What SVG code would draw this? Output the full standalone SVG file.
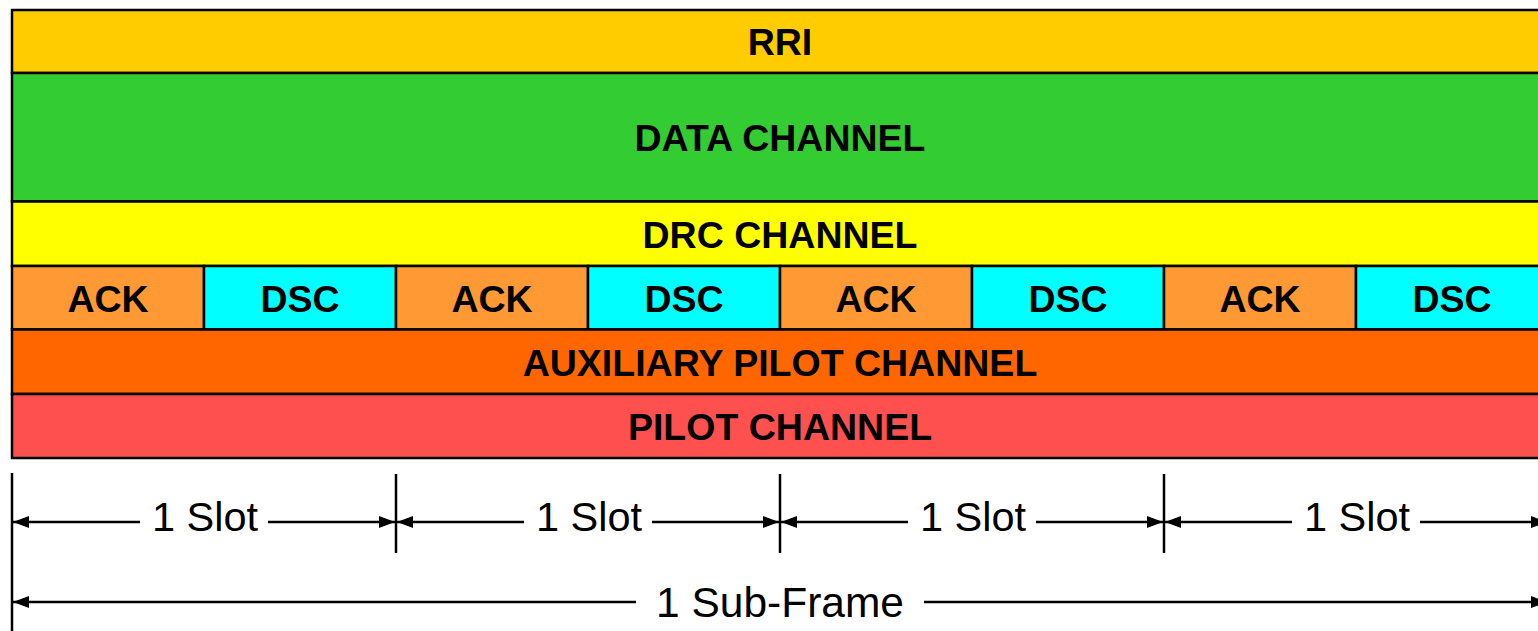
<svg xmlns="http://www.w3.org/2000/svg" width="1538" height="631" viewBox="0 0 1538 631">
<style>
.b{stroke:#000;stroke-width:2.5}
.t{font-family:"Liberation Sans",Arial,sans-serif;font-weight:bold;font-size:37.5px;text-anchor:middle;fill:#000}
.d{font-family:"Liberation Sans",Arial,sans-serif;font-size:41.5px;text-anchor:middle;fill:#000}
.f{font-size:42.5px}
.l{stroke:#000;stroke-width:2.5;fill:none}
</style>
<defs>
<marker id="ah" viewBox="0 0 16 12" refX="16" refY="6" markerWidth="16" markerHeight="12" markerUnits="userSpaceOnUse" orient="auto-start-reverse">
<path d="M0,0 L16,6 L0,12 Z" fill="#000"/>
</marker>
</defs>
<rect width="1538" height="631" fill="#fff"/>
<g id="rri"><rect class="b" x="12" y="10" width="1540" height="63" fill="#FFCC00"/><text class="t" x="780" y="55">RRI</text></g>
<g id="data"><rect class="b" x="12" y="73" width="1540" height="128.5" fill="#33CC33"/><text class="t" x="780" y="151">DATA CHANNEL</text></g>
<g id="drc"><rect class="b" x="12" y="201.5" width="1540" height="64.5" fill="#FFFF00"/><text class="t" x="780" y="248">DRC CHANNEL</text></g>
<g id="ack1"><rect class="b" x="12" y="266" width="192" height="63.5" fill="#FF9933"/><text class="t" x="108" y="312">ACK</text></g>
<g id="dsc1"><rect class="b" x="204" y="266" width="192" height="63.5" fill="#00FFFF"/><text class="t" x="300" y="312">DSC</text></g>
<g id="ack2"><rect class="b" x="396" y="266" width="192" height="63.5" fill="#FF9933"/><text class="t" x="492" y="312">ACK</text></g>
<g id="dsc2"><rect class="b" x="588" y="266" width="192" height="63.5" fill="#00FFFF"/><text class="t" x="684" y="312">DSC</text></g>
<g id="ack3"><rect class="b" x="780" y="266" width="192" height="63.5" fill="#FF9933"/><text class="t" x="876" y="312">ACK</text></g>
<g id="dsc3"><rect class="b" x="972" y="266" width="192" height="63.5" fill="#00FFFF"/><text class="t" x="1068" y="312">DSC</text></g>
<g id="ack4"><rect class="b" x="1164" y="266" width="192" height="63.5" fill="#FF9933"/><text class="t" x="1260" y="312">ACK</text></g>
<g id="dsc4"><rect class="b" x="1356" y="266" width="192" height="63.5" fill="#00FFFF"/><text class="t" x="1452" y="312">DSC</text></g>
<g id="aux"><rect class="b" x="12" y="329.5" width="1540" height="64.5" fill="#FF6600"/><text class="t" x="780" y="376">AUXILIARY PILOT CHANNEL</text></g>
<g id="pilot"><rect class="b" x="12" y="394" width="1540" height="64" fill="#FF5050"/><text class="t" x="780" y="440">PILOT CHANNEL</text></g>
<g id="connectors">
<line class="l" x1="12" y1="473" x2="12" y2="631"/>
<line class="l" x1="396" y1="474" x2="396" y2="553"/>
<line class="l" x1="780" y1="474" x2="780" y2="553"/>
<line class="l" x1="1164" y1="474" x2="1164" y2="553"/>
<line class="l" x1="140" y1="522" x2="13" y2="522" marker-end="url(#ah)"/>
<line class="l" x1="268" y1="522" x2="395" y2="522" marker-end="url(#ah)"/>
<line class="l" x1="524" y1="522" x2="397" y2="522" marker-end="url(#ah)"/>
<line class="l" x1="652" y1="522" x2="779" y2="522" marker-end="url(#ah)"/>
<line class="l" x1="908" y1="522" x2="781" y2="522" marker-end="url(#ah)"/>
<line class="l" x1="1036" y1="522" x2="1163" y2="522" marker-end="url(#ah)"/>
<line class="l" x1="1292" y1="522" x2="1165" y2="522" marker-end="url(#ah)"/>
<line class="l" x1="1420" y1="522" x2="1547" y2="522" marker-end="url(#ah)"/>
<line class="l" x1="636" y1="602" x2="13" y2="602" marker-end="url(#ah)"/>
<line class="l" x1="924" y1="602" x2="1547" y2="602" marker-end="url(#ah)"/>
</g>
<g id="labels">
<text class="d" x="205" y="531">1 Slot</text>
<text class="d" x="589" y="531">1 Slot</text>
<text class="d" x="973" y="531">1 Slot</text>
<text class="d" x="1357" y="531">1 Slot</text>
<text class="d f" x="780" y="617">1 Sub-Frame</text>
</g>
</svg>
